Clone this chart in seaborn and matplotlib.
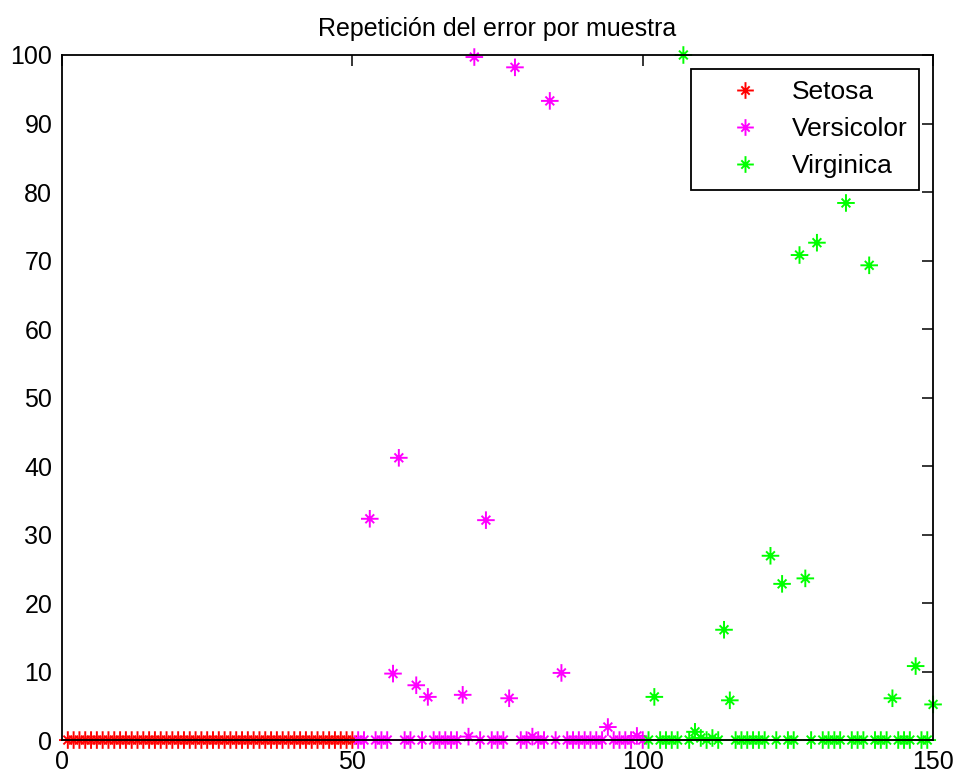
import numpy as np
import pandas as pd
import matplotlib
matplotlib.use("Agg")
import matplotlib.pyplot as plt
from matplotlib.path import Path
from matplotlib.lines import Line2D
import seaborn as sns

# Error repetition (%) for each of the 150 iris samples
setosa_samples = list(range(1, 51))
setosa_error = [0.0] * 50

versicolor_samples = list(range(51, 101))
versicolor_error = [
    0, 0, 32.3, 0, 0, 0, 9.7, 41.2, 0, 0,
    8.0, 0, 6.3, 0, 0, 0, 0, 0, 6.6, 0.5,
    99.7, 0, 32.1, 0, 0, 0, 6.1, 98.2, 0, 0,
    0.5, 0, 0, 93.3, 0, 9.8, 0, 0, 0, 0,
    0, 0, 0, 1.9, 0, 0, 0, 0, 0.6, 0,
]

virginica_samples = list(range(101, 151))
virginica_error = [
    0, 6.3, 0, 0, 0, 0, 100.0, 0, 1.2, 0.3,
    0, 0.3, 0, 16.1, 5.8, 0, 0, 0, 0, 0,
    0, 26.9, 0, 22.8, 0, 0, 70.8, 23.6, 0, 72.6,
    0, 0, 0, 0, 78.4, 0, 0, 0, 69.3, 0,
    0, 0, 6.1, 0, 0, 0, 10.8, 0, 0, 5.2,
]

class_names = ["Setosa", "Versicolor", "Virginica"]
class_colors = ["#ff0000", "#ff00ff", "#00ff00"]

df = pd.DataFrame({
    "muestra": setosa_samples + versicolor_samples + virginica_samples,
    "error": setosa_error + versicolor_error + virginica_error,
    "clase": ["Setosa"] * 50 + ["Versicolor"] * 50 + ["Virginica"] * 50,
})

# asterisk marker: long + arms with short diagonal arms
d = 0.5
verts = [(0, -1), (0, 1), (-1, 0), (1, 0),
         (-d, -d), (d, d), (-d, d), (d, -d)]
codes = [Path.MOVETO, Path.LINETO] * 4
star = Path(verts, codes)

sns.set_style("white")
plt.rcParams["font.family"] = ["Liberation Sans", "DejaVu Sans"]
plt.rcParams["text.color"] = "black"

fig = plt.figure(figsize=(9.57, 7.79), dpi=100)
ax = fig.add_axes([0.0648, 0.050, 0.9102, 0.8794])

sns.scatterplot(
    data=df, x="muestra", y="error", hue="clase",
    hue_order=class_names, palette=class_colors,
    marker=star, s=160, linewidth=1.4, edgecolor="face",
    legend=False, clip_on=False, zorder=3, ax=ax,
)

ax.set_xlim(0, 150)
ax.set_ylim(0, 100)
ax.set_xticks([0, 50, 100, 150])
ax.set_yticks(np.arange(0, 101, 10))
ax.set_xlabel("")
ax.set_ylabel("")
for sp in ax.spines.values():
    sp.set_visible(True)
    sp.set_color("black")
    sp.set_linewidth(1.3)
    sp.set_zorder(4)
ax.tick_params(direction="in", length=8, width=1.1, colors="black",
               labelsize=18, top=True, right=True, pad=7)
ax.set_title("Repetición del error por muestra", fontsize=18, pad=14,
             color="black")

handles = [
    Line2D([], [], linestyle="none", marker=star, markersize=12,
           markeredgewidth=1.4, color=c)
    for c in class_colors
]
leg = ax.legend(handles, class_names, loc="upper right", fontsize=19,
                frameon=True, fancybox=False, framealpha=1,
                edgecolor="black", borderaxespad=0.53,
                handletextpad=0.2, handlelength=3.2, labelspacing=0.5,
                borderpad=0.42)
leg.get_frame().set_linewidth(1.3)
leg.set_zorder(5)
for t in leg.get_texts():
    t.set_color("black")

fig.savefig("out.png", dpi=100, facecolor="white")
